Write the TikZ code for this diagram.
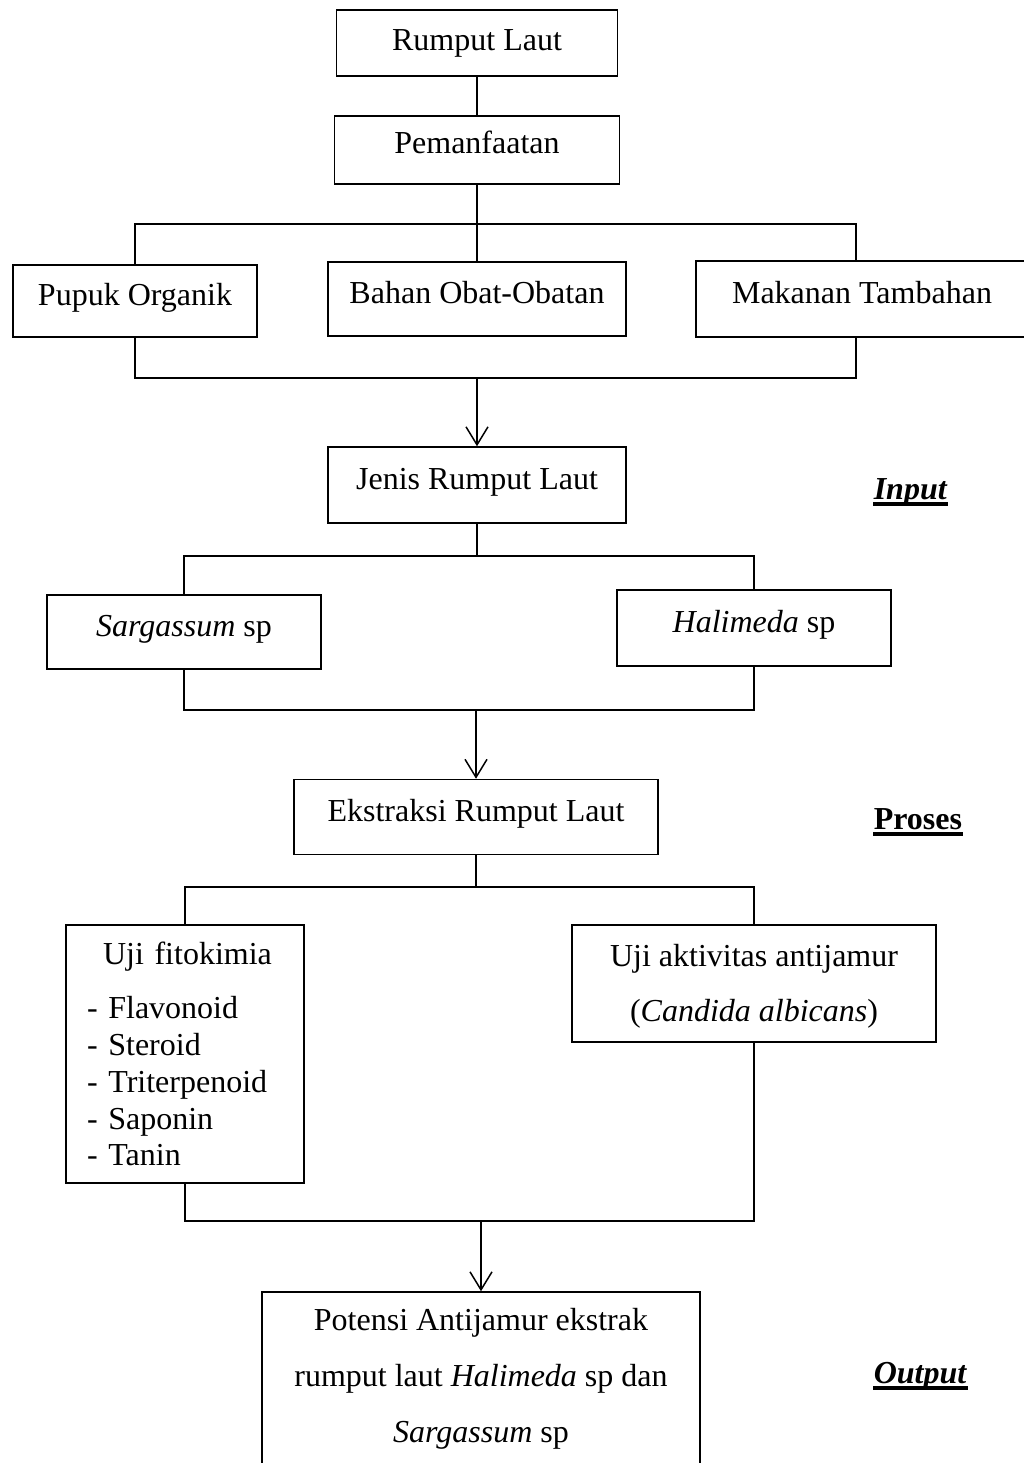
\documentclass[tikz,border=0pt]{standalone}
\usepackage{fontspec}
\setmainfont{Liberation Serif}
\usetikzlibrary{arrows.meta}

\begin{document}
\begin{tikzpicture}[x=1pt,y=-1pt,line width=1.5pt,
	box/.style={draw,inner sep=0pt,font=\fontsize{32}{38}\selectfont},
	one/.style={box,text height=22pt,text depth=14pt},
	arr/.style={-{Straight Barb[length=18pt,width=22pt]}}]
\useasboundingbox (0,0) rectangle (1023,1463);

\node[box,minimum width=281,minimum height=66](top) at (477,43){Rumput Laut};
\node[one,minimum width=285,minimum height=68](use) at (477,150){Pemanfaatan};
\node[one,minimum width=244,minimum height=72](pupuk) at (135,301){Pupuk Organik};
\node[one,minimum width=298,minimum height=74](bahan) at (477,299){Bahan Obat-Obatan};
\node[one,minimum width=332,minimum height=76](makan) at (862,299){Makanan Tambahan};
\node[one,minimum width=298,minimum height=76](jenis) at (477,485){Jenis Rumput Laut};
\node[one,minimum width=274,minimum height=74](sarg) at (184,632){\textit{Sargassum} sp};
\node[one,minimum width=274,minimum height=76](hali) at (754,628){\textit{Halimeda} sp};
\node[one,minimum width=364,minimum height=75](ekstr) at (476,817){Ekstraksi Rumput Laut};
\node[box,font=\fontsize{32}{36.75}\selectfont,text width=196pt,inner xsep=21pt,align=left,
	minimum height=258](fito) at (185,1054)
	{\hspace*{16pt}Uji fitokimia\\[18pt]- Flavonoid\\- Steroid\\- Triterpenoid\\- Saponin\\- Tanin};
\node[box,font=\fontsize{32}{55}\selectfont,align=center,minimum width=364,minimum height=117,
	text depth=2pt](anti) at (754,983.5){Uji aktivitas antijamur\\(\textit{Candida albicans})};
\node[box,font=\fontsize{32}{56}\selectfont,align=center,minimum width=438,minimum height=188,
	text depth=22pt](pot) at (481,1386)
	{Potensi Antijamur ekstrak\\rumput laut \textit{Halimeda} sp dan\\\textit{Sargassum} sp};

% titik cabang
\coordinate(c1) at (856,224);
\coordinate(c2) at (856,378);
\coordinate(m1) at (477,378);
\coordinate(m2) at (477,556);
\coordinate(m3) at (476,710);
\coordinate(m4) at (476,887);
\coordinate(m5) at (481,1221);

\draw (top)--(use);
\draw (use)--(bahan);
\draw (pupuk.north)|-(c1)--(c1|-makan.north);
\draw (pupuk.south)|-(c2)--(c2|-makan.south);
\draw[arr] (m1)--(jenis);
\draw (jenis)--(m2);
\draw (sarg.north)|-(hali.north|-m2)--(hali.north);
\draw (sarg.south)|-(hali.south|-m3)--(hali.south);
\draw[arr] (m3)--(ekstr);
\draw (ekstr)--(m4);
\draw (fito.north)|-(anti.north|-m4)--(anti.north);
\draw (fito.south)|-(anti.south|-m5)--(anti.south);
\draw[arr] (m5)--(pot);

\foreach \n/\t/\y in {in/\textit{Input}/499,pr/Proses/829,out/\textit{Output}/1383}{
	\node[anchor=base west,inner sep=0pt,font=\fontsize{32}{38}\selectfont\bfseries](\n) at (873,\y){\t};
	\draw[line width=3.8pt] ([yshift=-5pt]\n.base west)--([yshift=-5pt]\n.base east);
}

\end{tikzpicture}
\end{document}
